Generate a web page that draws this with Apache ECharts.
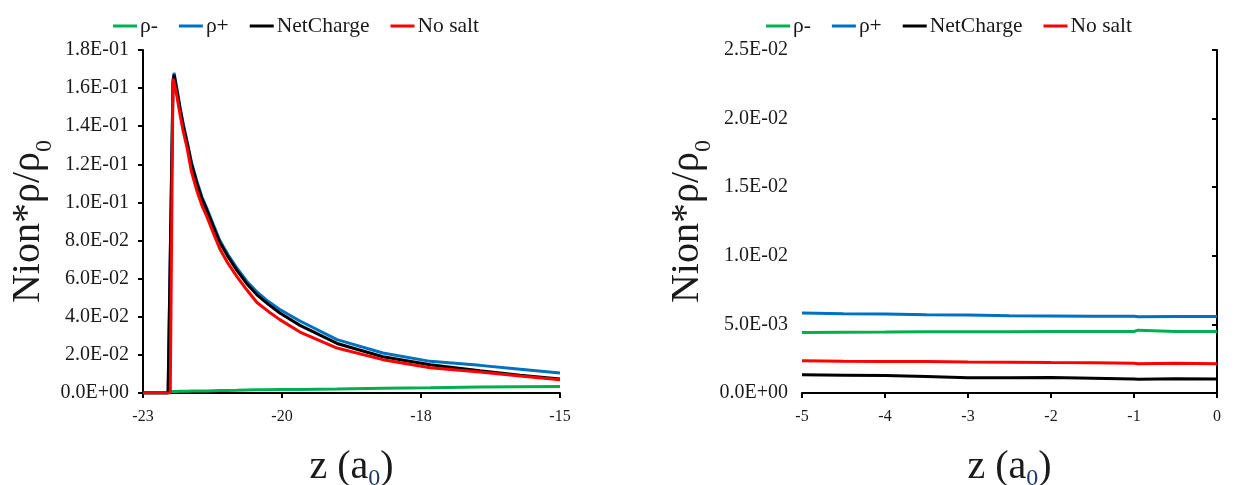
<!DOCTYPE html>
<html>
<head>
<meta charset="utf-8">
<script src="https://cdn.jsdelivr.net/npm/echarts@6/dist/echarts.min.js"></script>
<style>
html,body{margin:0;padding:0;background:#fff;}
#chart{width:1238px;height:485px;}
</style>
</head>
<body>
<div id="chart"></div>
<script>
// ---------- Data ----------
const seriesNames = ['ρ-', 'ρ+', 'NetCharge', 'No salt'];
const seriesColors = ['#00B050', '#0070C0', '#000000', '#FF0000'];

// Left panel: z (a0)
const zLeft = [-22.65, -22.19, -22.15, -22.10, -22.08, -22.03, -21.97, -21.91, -21.84, -21.76,
               -21.66, -21.57, -21.48, -21.36, -21.24, -21.09, -20.93, -20.75, -20.56, -20.35,
               -20.14, -19.77, -19.09, -18.25, -17.38, -16.47, -15.73, -15.00];
const rhoMinusLeft = [0, 0, 0.0008, 0.0008, 0.0008, 0.0008, 0.0009, 0.0009, 0.0009, 0.0010,
                      0.0010, 0.0010, 0.0011, 0.0012, 0.0013, 0.0013, 0.0014, 0.0016, 0.0017, 0.0017,
                      0.0018, 0.0019, 0.0021, 0.0025, 0.0027, 0.0031, 0.0033, 0.0034];
const rhoPlusLeft = [0, 0, null, 0.163, 0.168, 0.160, 0.150, 0.141, 0.132, 0.121,
                     0.111, 0.103, 0.097, 0.0884, 0.080, 0.0725, 0.0657, 0.0588, 0.053, 0.048,
                     0.0438, 0.0378, 0.028, 0.021, 0.0166, 0.0145, 0.0125, 0.0105];
const netChargeLeft = [0, 0, null, 0.162, 0.167, 0.159, 0.149, 0.140, 0.131, 0.120,
                       0.110, 0.102, 0.096, 0.0874, 0.079, 0.0715, 0.0645, 0.0575, 0.0515, 0.0465,
                       0.042, 0.0355, 0.026, 0.019, 0.0148, 0.0117, 0.0093, 0.0073];
const noSaltLeft = [0, 0, 0, 0.165, 0.163, 0.156, 0.146, 0.137, 0.1285, 0.116,
                    0.106, 0.0985, 0.0927, 0.084, 0.0756, 0.068, 0.0612, 0.0543, 0.0475, 0.0428,
                    0.0385, 0.032, 0.0236, 0.0175, 0.0133, 0.0110, 0.0089, 0.0070];
const xTickValuesLeft = [-22.65, -20.1, -17.55, -15];
const xTickLabelsLeft = ['-23', '-20', '-18', '-15'];

// Right panel: z (a0)
const zRight = [-5, -4.5, -4, -3.5, -3, -2.5, -2, -1.5, -1, -0.95, -0.5, 0];
const rhoMinusRight = [0.00441, 0.00443, 0.00444, 0.00446, 0.00447, 0.00447, 0.00448, 0.00448, 0.00448, 0.00458, 0.00449, 0.00449];
const rhoPlusRight = [0.00583, 0.00577, 0.00575, 0.00570, 0.00568, 0.00563, 0.00562, 0.00560, 0.00559, 0.00556, 0.00558, 0.00558];
const netChargeRight = [0.00133, 0.00130, 0.00127, 0.00120, 0.00112, 0.00112, 0.00113, 0.00108, 0.00102, 0.00100, 0.00104, 0.00102];
const noSaltRight = [0.00235, 0.00232, 0.00230, 0.00229, 0.00226, 0.00225, 0.00222, 0.00220, 0.00217, 0.00214, 0.00216, 0.00213];

// ---------- Chart ----------
const serif = '"Liberation Serif", "Times New Roman", serif';
const textColor = '#1a1a1a';

function sci(v) {
  if (Math.abs(v) < 1e-12) return '0.0E+00';
  const s = v.toExponential(1).toUpperCase();
  const m = s.match(/^(-?[\d.]+)E([+-])(\d+)$/);
  const e = m[3].length < 2 ? '0' + m[3] : m[3];
  return m[1] + 'E' + m[2] + e;
}

function zip(xs, ys) { return xs.map((x, i) => [x, ys[i]]); }

const leftData = [rhoMinusLeft, rhoPlusLeft, netChargeLeft, noSaltLeft];
const rightData = [rhoMinusRight, rhoPlusRight, netChargeRight, noSaltRight];

const yName = 'Nion*ρ/ρ{sub|0}';
const xName = 'z (a{subx|0})';

function yAxis(gridIndex, max, interval) {
  return {
    type: 'value', gridIndex, min: 0, max, interval,
    name: yName, nameLocation: 'middle', nameGap: 88,
    nameTextStyle: {
      fontFamily: serif, fontSize: 40, color: textColor,
      rich: { sub: { fontFamily: serif, fontSize: 24, color: textColor, verticalAlign: 'bottom', padding: [0, 0, -8, 0] } }
    },
    axisLine: { show: true, lineStyle: { color: '#000', width: 2 } },
    axisTick: { show: true, inside: false, length: 5, lineStyle: { color: '#000', width: 2 } },
    axisLabel: { fontFamily: serif, fontSize: 20, color: textColor, margin: 14, formatter: sci },
    splitLine: { show: false }
  };
}

function xAxisBase(gridIndex) {
  return {
    type: 'value', gridIndex,
    name: xName, nameLocation: 'middle', nameGap: 54,
    nameTextStyle: {
      fontFamily: serif, fontSize: 40, color: textColor,
      rich: { subx: { fontFamily: serif, fontSize: 24, color: '#203864', verticalAlign: 'bottom', padding: [0, 0, -4, 0] } }
    },
    axisLine: { show: true, onZero: false, lineStyle: { color: '#000', width: 2 } },
    axisTick: { show: true, inside: false, length: 5, lineStyle: { color: '#000', width: 2 } },
    axisLabel: { fontFamily: serif, fontSize: 16, color: textColor, margin: 16 },
    splitLine: { show: false }
  };
}

const xLeft = xAxisBase(0);
xLeft.min = xTickValuesLeft[0];
xLeft.max = xTickValuesLeft[xTickValuesLeft.length - 1];
xLeft.axisTick.customValues = xTickValuesLeft;
xLeft.axisLabel.customValues = xTickValuesLeft;
xLeft.axisLabel.formatter = function (v) {
  let best = 0, bd = Infinity;
  xTickValuesLeft.forEach((t, i) => { const d = Math.abs(t - v); if (d < bd) { bd = d; best = i; } });
  return xTickLabelsLeft[best];
};

const xRight = xAxisBase(1);
xRight.min = -5; xRight.max = 0; xRight.interval = 1;

function legend(left) {
  return {
    data: seriesNames, left, top: 10, itemGap: 21, itemWidth: 24, itemHeight: 3,
    icon: 'rect', selectedMode: false,
    textStyle: { fontFamily: serif, fontSize: 21.5, color: textColor, padding: [0, 0, 0, -2] }
  };
}

const series = [];
[leftData, rightData].forEach((set, g) => {
  const xs = g === 0 ? zLeft : zRight;
  set.forEach((vals, i) => {
    series.push({
      name: seriesNames[i], type: 'line', xAxisIndex: g, yAxisIndex: g,
      data: zip(xs, vals), showSymbol: false, symbol: 'none', connectNulls: true,
      lineStyle: { color: seriesColors[i], width: 3 }, itemStyle: { color: seriesColors[i] },
      animation: false
    });
  });
});

const chart = echarts.init(document.getElementById('chart'), null, { renderer: 'canvas' });
chart.setOption({
  animation: false,
  backgroundColor: '#fff',
  legend: [legend(108), legend(761)],
  grid: [
    { left: 143, right: 678, top: 50, bottom: 92, outerBoundsMode: 'none', containLabel: false },
    { left: 802, right: 21, top: 50, bottom: 92, outerBoundsMode: 'none', containLabel: false }
  ],
  xAxis: [xLeft, xRight],
  yAxis: [yAxis(0, 0.18, 0.02), yAxis(1, 0.025, 0.005)],
  series
});
</script>
</body>
</html>
